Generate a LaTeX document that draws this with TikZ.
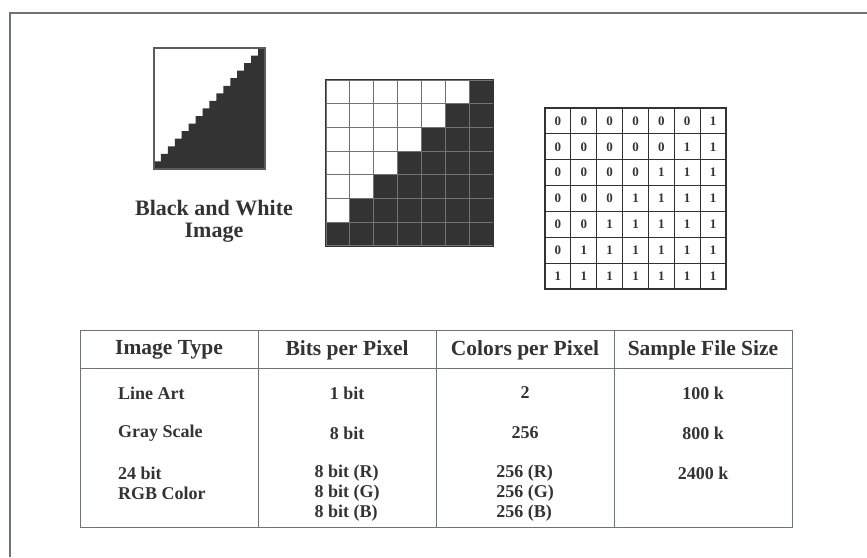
\documentclass[tikz,border=0pt]{standalone}
\usepackage{fontspec}
\setmainfont{Liberation Serif}
\usepackage{tikz}
\usetikzlibrary{positioning}
\definecolor{ink}{HTML}{333333}
\definecolor{rule}{HTML}{6E7472}

\begin{document}
\begin{tikzpicture}[x=1pt, y=-1pt,
  caption/.style={font=\fontsize{22}{22}\selectfont\bfseries, text=ink, align=center, inner sep=0pt},
  head/.style={font=\fontsize{21.5}{24}\selectfont\bfseries, text=ink, inner sep=0pt},
  cell/.style={font=\fontsize{18}{20}\selectfont\bfseries, text=ink, inner sep=0pt, align=left},
  pix/.style={draw=black!55, line width=1pt, minimum width=23.86pt, minimum height=23.7pt, inner sep=0pt},
  bit/.style={draw=ink, line width=0.9pt, minimum width=25.86pt, minimum height=25.86pt, inner sep=0pt, font=\fontsize{13}{13}\selectfont\bfseries, text=ink},
  tablerule/.style={draw=rule, line width=1pt},
]
\useasboundingbox (0,0) rectangle (867,557);
\draw[rule, line width=1.2pt] (867,13) -- (10,13) -- (10,557);

\fill[ink] (265,48) -- ++(-6.94,0) foreach \s in {1,...,15}{ -- ++(0,7.56) -- ++(-6.94,0) } -- (154,169) -- (265,169) -- cycle;
\node[draw=ink!80, line width=1.5pt, minimum width=111pt, minimum height=121pt, inner sep=0pt] (bw) at (209.5,108.5) {};
\node[caption, below=30pt of bw, xshift=4.5pt] (bwlabel) {Black and White\\Image};

\foreach \r in {0,...,6}
  \foreach \c in {0,...,6}{
    \pgfmathtruncatemacro\k{\r+\c}
    \ifnum\k>5 \def\f{ink}\else\def\f{white}\fi
    \node[pix, fill=\f] (g-\r-\c) at (326+\c*23.86+11.93, 80+\r*23.7+11.85) {};
  }
\draw[ink, line width=1.5pt] (g-0-0.north west) rectangle (g-6-6.south east);

\foreach \r in {0,...,6}
  \foreach \c in {0,...,6}{
    \pgfmathtruncatemacro\k{\r+\c}
    \ifnum\k>5 \def\v{1}\else\def\v{0}\fi
    \node[bit] (b-\r-\c) at (545+\c*25.86+12.93, 108+\r*25.86+12.93) {\v};
  }
\draw[ink, line width=2pt] (b-0-0.north west) rectangle (b-6-6.south east);

\draw[tablerule] (80,330) rectangle (792,527);
\draw[tablerule] (80,368) -- (792,368);
\foreach \x in {258,436,614}
  \draw[tablerule] (\x,330) -- (\x,527);

\node[head] (h1) at (169,350) {Image Type};
\node[head] (h2) at (347,350) {Bits per Pixel};
\node[head] (h3) at (525,350) {Colors per Pixel};
\node[head] (h4) at (703,350) {Sample File Size};

\node[cell, anchor=west] (t1) at (118,393) {Line Art};
\node[cell, anchor=west] (t2) at (118,433) {Gray Scale};
\node[cell, anchor=west] (t3) at (118,483) {24 bit\\RGB Color};

\node[cell] (p1) at (347,393) {1 bit};
\node[cell] (p2) at (347,433) {8 bit};
\node[cell] (p3) at (347,493) {8 bit (R)\\8 bit (G)\\8 bit (B)};

\node[cell] (c1) at (525,393) {2};
\node[cell] (c2) at (525,433) {256};
\node[cell] (c3) at (525,493) {256 (R)\\256 (G)\\256 (B)};

\node[cell] (s1) at (703,393) {100 k};
\node[cell] (s2) at (703,433) {800 k};
\node[cell] (s3) at (703,473) {2400 k};
\end{tikzpicture}
\end{document}
